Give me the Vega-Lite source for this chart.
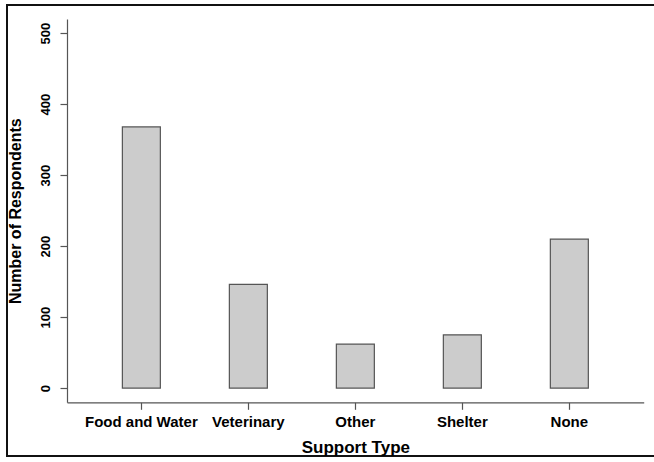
{
  "$schema": "https://vega.github.io/schema/vega-lite/v6.json",
  "autosize": "none",
  "width": 653,
  "height": 451,
  "padding": {"left": 7, "top": 5, "right": -6, "bottom": 6},
  "background": "white",
  "config": {
    "view": {"stroke": "#111111", "strokeWidth": 2},
    "font": "Liberation Sans",
    "axis": {
      "grid": false,
      "domainColor": "#555555",
      "domainWidth": 1.2,
      "tickColor": "#555555",
      "tickWidth": 1.2,
      "tickSize": 7,
      "labelColor": "#000000",
      "labelFont": "Liberation Sans",
      "labelFontWeight": "bold",
      "titleColor": "#000000",
      "titleFont": "Liberation Sans",
      "titleFontWeight": "bold"
    }
  },
  "data": {
    "values": [
      {"type": "Food and Water", "count": 368},
      {"type": "Veterinary", "count": 146},
      {"type": "Other", "count": 62},
      {"type": "Shelter", "count": 75},
      {"type": "None", "count": 210}
    ]
  },
  "mark": {"type": "bar", "fill": "#cccccc", "stroke": "#555555", "strokeWidth": 1.2},
  "encoding": {
    "x": {
      "field": "type",
      "type": "nominal",
      "sort": null,
      "scale": {"range": [60, 636.7], "paddingInner": 0.645, "paddingOuter": 0.5175},
      "axis": {
        "title": "Support Type",
        "orient": "bottom",
        "offset": -53.7,
        "labelAngle": 0,
        "labelFontSize": 15,
        "labelPadding": 5,
        "titleFontSize": 17,
        "titlePadding": 10
      }
    },
    "y": {
      "field": "count",
      "type": "quantitative",
      "scale": {"domain": [-20, 520], "range": [397.3, 14], "nice": false, "zero": false},
      "axis": {
        "title": "Number of Respondents",
        "orient": "left",
        "offset": -60,
        "values": [0, 100, 200, 300, 400, 500],
        "labelAngle": -90,
        "labelAlign": "center",
        "labelFontSize": 13,
        "labelPadding": 8,
        "titleFontSize": 16,
        "titlePadding": 16
      }
    }
  }
}
